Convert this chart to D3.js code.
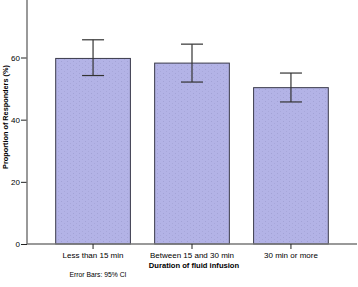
<!DOCTYPE html>
<html>
<head>
<meta charset="utf-8">
<script src="https://cdn.jsdelivr.net/npm/d3@7"></script>
<style>
  body { margin: 0; background: #fff; }
  svg { display: block; font-family: "Liberation Sans", Arial, sans-serif; }
</style>
</head>
<body>
<div></div>
<script>
(() => {

    const categories = ["Less than 15 min", "Between 15 and 30 min", "30 min or more"];
    const values = [59.7, 58.2, 50.3];
    const ciLow = [54.2, 52.1, 45.7];
    const ciHigh = [65.7, 64.3, 55.0];
    const yTicks = [0, 20, 40, 60];

    const data = categories.map((c, i) => ({ cat: c, v: values[i], lo: ciLow[i], hi: ciHigh[i] }));

    const W = 358, H = 287;
    const left = 27, right = 357, top = 0, bottom = 244;

    const svg = d3.select("div")
        .append("svg")
        .attr("width", W)
        .attr("height", H);

    // dotted fill like the original
    const pat = svg.append("defs").append("pattern")
        .attr("id", "dots")
        .attr("width", 6).attr("height", 4)
        .attr("patternUnits", "userSpaceOnUse");
    pat.append("rect").attr("width", 6).attr("height", 4).attr("fill", "#b3b3e6");
    pat.append("rect").attr("x", 1).attr("y", 1).attr("width", 1).attr("height", 1).attr("fill", "#a3a3d6");
    pat.append("rect").attr("x", 4).attr("y", 3).attr("width", 1).attr("height", 1).attr("fill", "#a8a8da");

    let x = d3.scaleBand()
        .domain(categories)
        .range([left, right])
        .paddingInner(0.245)
        .paddingOuter(0.29);

    let y = d3.scaleLinear()
        .domain([0, 78.5])
        .range([bottom, top]);

    // bars
    svg.selectAll("rect.bar")
        .data(data)
        .enter()
        .append("rect")
            .attr("class", "bar")
            .attr("x", d => x(d.cat))
            .attr("y", d => y(d.v))
            .attr("width", x.bandwidth())
            .attr("height", d => y(0) - y(d.v))
            .attr("fill", "url(#dots)")
            .attr("stroke", "#3a3a4a")
            .attr("stroke-width", 1);

    // error bars
    const cap = 11;
    const eb = svg.selectAll("g.err")
        .data(data)
        .enter()
        .append("g")
            .attr("class", "err")
            .attr("stroke", "#333")
            .attr("stroke-width", 1.2);
    eb.append("line")
        .attr("x1", d => x(d.cat) + x.bandwidth() / 2)
        .attr("x2", d => x(d.cat) + x.bandwidth() / 2)
        .attr("y1", d => y(d.lo))
        .attr("y2", d => y(d.hi));
    eb.append("line")
        .attr("x1", d => x(d.cat) + x.bandwidth() / 2 - cap)
        .attr("x2", d => x(d.cat) + x.bandwidth() / 2 + cap)
        .attr("y1", d => y(d.hi))
        .attr("y2", d => y(d.hi));
    eb.append("line")
        .attr("x1", d => x(d.cat) + x.bandwidth() / 2 - cap)
        .attr("x2", d => x(d.cat) + x.bandwidth() / 2 + cap)
        .attr("y1", d => y(d.lo))
        .attr("y2", d => y(d.lo));

    // axes
    let y_axis = d3.axisLeft(y).tickValues(yTicks).tickSize(6).tickPadding(1).tickSizeOuter(0);
    let x_axis = d3.axisBottom(x).tickSize(5).tickPadding(3).tickSizeOuter(0);

    const gy = svg.append("g")
        .attr("transform", `translate(${left},0)`)
        .call(y_axis);
    gy.select(".domain").remove();
    gy.append("line")
        .attr("x1", 0).attr("x2", 0)
        .attr("y1", 0).attr("y2", bottom)
        .attr("stroke", "#777").attr("stroke-width", 1.5);

    const gx = svg.append("g")
        .attr("transform", `translate(0,${bottom})`)
        .call(x_axis);
    gx.select(".domain")
        .attr("d", `M${left},0H${right}`)
        .attr("stroke", "#777").attr("stroke-width", 1.5);

    svg.selectAll(".tick line").attr("stroke", "#222");
    svg.selectAll(".tick text")
        .attr("fill", "#000")
        .style("font-size", "8px");

    // axis titles
    svg.append("text")
        .attr("transform", "translate(8,117) rotate(-90)")
        .attr("text-anchor", "middle")
        .style("font-size", "7.3px")
        .style("font-weight", "bold")
        .text("Proportion of Responders (%)");

    svg.append("text")
        .attr("x", 194)
        .attr("y", 268)
        .attr("text-anchor", "middle")
        .style("font-size", "7.6px")
        .style("font-weight", "bold")
        .text("Duration of fluid infusion");

    svg.append("text")
        .attr("x", 98)
        .attr("y", 277)
        .attr("text-anchor", "middle")
        .style("font-size", "6.8px")
        .text("Error Bars: 95% CI");

})();
</script>
</body>
</html>
